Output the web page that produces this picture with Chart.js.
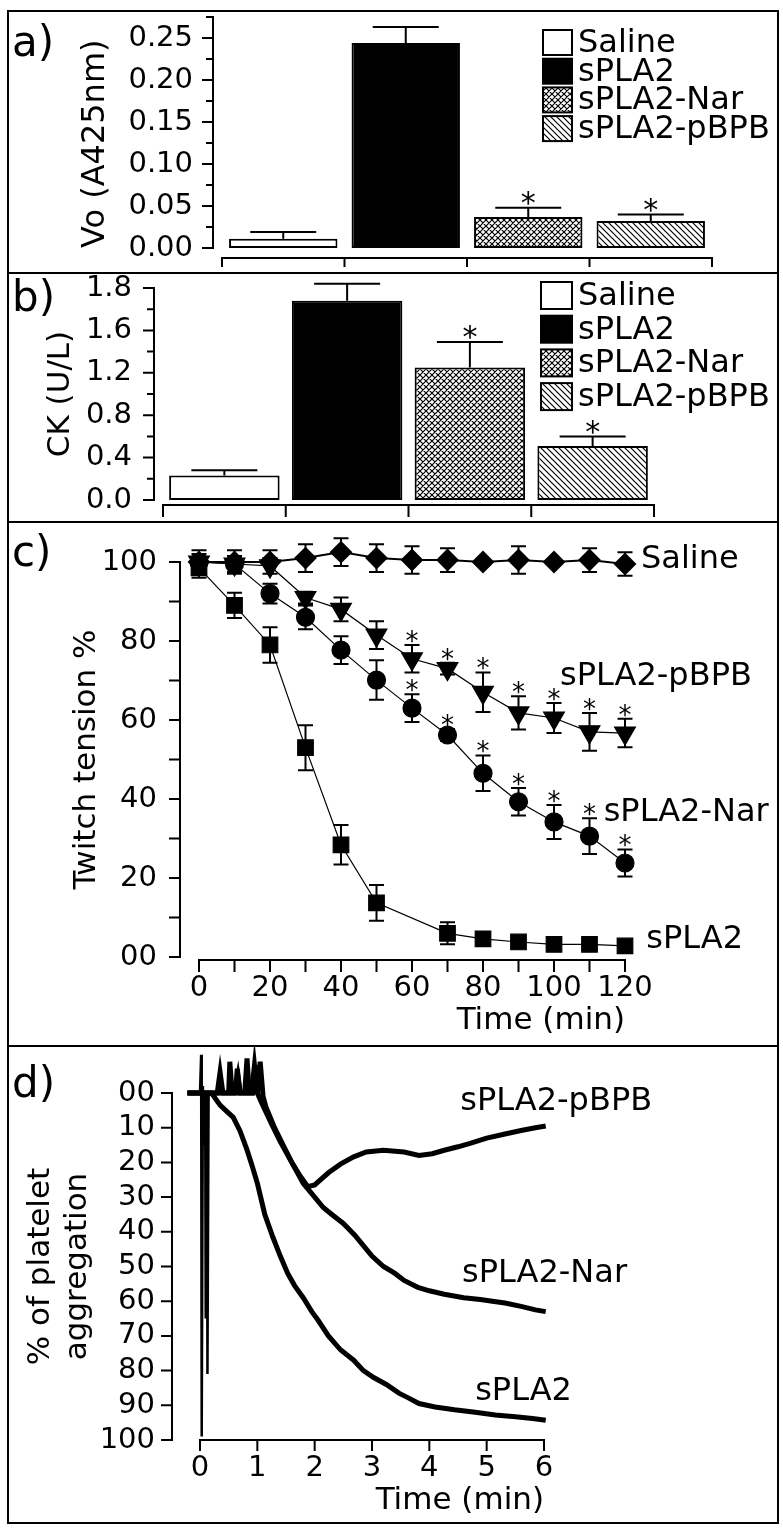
<!DOCTYPE html>
<html>
<head>
<meta charset="utf-8">
<script src="https://cdn.jsdelivr.net/npm/chart.js@4.4.1/dist/chart.umd.min.js"></script>
<style>
  html, body { margin: 0; padding: 0; background: #fff; }
  #page { position: relative; width: 783px; height: 1537px; overflow: hidden; font-family: "DejaVu Sans", sans-serif; }
  .frame { position: absolute; left: 7px; top: 10px; width: 768px; height: 1510px; border: 2px solid #000; }
  .rule { position: absolute; left: 7px; width: 772px; height: 2px; background: #000; }
  canvas { position: absolute; left: 0; }
  .tag { position: absolute; left: 12px; font-size: 42px; line-height: 42px; }
</style>
</head>
<body>
<div id="page">
  <div class="frame"></div>
  <div class="rule" style="top:272px"></div>
  <div class="rule" style="top:521px"></div>
  <div class="rule" style="top:1045px"></div>
  <canvas id="chart-a" width="783" height="263" style="top:10px"></canvas>
  <canvas id="chart-b" width="783" height="249" style="top:273px"></canvas>
  <canvas id="chart-c" width="783" height="524" style="top:522px"></canvas>
  <canvas id="chart-d" width="783" height="478" style="top:1046px"></canvas>
  <div class="tag" style="top:21px">a)</div>
  <div class="tag" style="top:276px">b)</div>
  <div class="tag" style="top:531px">c)</div>
  <div class="tag" style="top:1062px">d)</div>
</div>
<script>
// ---- a) initial velocity, A425nm ----
const groups = ["Saline", "sPLA2", "sPLA2-Nar", "sPLA2-pBPB"];
const voMean = [0.011, 0.244, 0.037, 0.032];
const voSem = [0.008, 0.019, 0.011, 0.008];
const voStar = [false, false, true, true];
const voTicks = ["0.00", "", "0.05", "", "0.10", "", "0.15", "", "0.20", "", "0.25", ""];

// ---- b) CK release ----
const ckMean = [0.23, 1.88, 1.25, 0.51];
const ckSem = [0.05, 0.16, 0.24, 0.09];
const ckStar = [false, false, true, true];
// the published axis labels its top tick "1.8"
const ckTicks = ["0.0", "", "0.4", "", "0.8", "", "1.2", "", "1.6", "", "1.8"];

// ---- c) twitch tension (%) ----
const twitchTime = [0, 10, 20, 30, 40, 50, 60, 70, 80, 90, 100, 110, 120];
const twitchSaline = [100, 100, 100, 101, 102.5, 101, 100.5, 100.5, 100, 100.5, 100, 100.5, 99.5];
const twitchSalineSem = [3, 3, 3, 3.5, 3.5, 3.5, 3.5, 3, 0, 3.5, 0, 3, 3];
const twitchPla2 = [98.5, 89, 79, 53, 28.4, 13.7, null, 6, 4.6, 3.8, 3.2, 3.2, 2.8];
const twitchPla2Sem = [2.5, 3.2, 4.5, 5.7, 5, 4.5, null, 2.8, 0.8, 0.8, 0.5, 0.5, 0];
const twitchNar = [100, 99.5, 92, 86, 77.7, 70.1, 63, 56.2, 46.5, 39.3, 34.2, 30.6, 23.8];
const twitchNarSem = [2, 2, 2.5, 3, 3.5, 5, 3.5, 1.5, 4.5, 3.5, 4.3, 4.5, 3.4];
const twitchPbpb = [100, 99.5, 99, 91, 88, 81.5, 75.5, 73, 67, 61.8, 60.5, 57, 56.7];
const twitchPbpbSem = [2, 2, 2, 1.5, 3, 3.5, 3.5, 1.5, 5, 4.2, 3.8, 4.8, 3.6];
const twitchStar = [false, false, false, false, false, false, true, true, true, true, true, true, true];
const twitchYTicks = ["00", "", "20", "", "40", "", "60", "", "80", "", "100"];
const twitchXTicks = ["0", "", "20", "", "40", "", "60", "", "80", "", "100", "", "120"];

// ---- d) platelet aggregation traces (%) ----
const aggPla2Time = [-0.22, 0.2, 0.35, 0.48, 0.58, 0.7, 0.82, 0.91, 1.0, 1.13, 1.27, 1.4, 1.53, 1.65, 1.8, 1.95, 2.06, 2.24, 2.45, 2.68, 2.85, 3.03, 3.25, 3.47, 3.65, 3.82, 4.1, 4.44, 4.8, 5.15, 5.5, 5.8, 6.03];
const aggPla2 = [0, 0, 3.5, 5.5, 7, 11, 16.4, 21, 26, 35, 41.5, 47, 52, 55.5, 59, 63, 65.5, 70, 74, 77, 80, 82, 84, 86.5, 88, 89.5, 90.5, 91.3, 92, 92.8, 93.3, 93.8, 94.3];
const aggNarTime = [-0.22, 0.6, 0.66, 0.7, 0.9, 0.95, 1.0, 1.08, 1.25, 1.4, 1.6, 1.8, 2.0, 2.15, 2.3, 2.5, 2.7, 2.85, 3.0, 3.2, 3.4, 3.56, 3.8, 4.0, 4.26, 4.6, 4.89, 5.1, 5.32, 5.6, 5.85, 6.03];
const aggNar = [0, 0, -5, 0, 0, -8, 0, 3, 9, 14, 20, 26, 30, 33, 35, 37.6, 41, 44, 47, 50, 52, 54, 56, 57, 58, 59, 59.5, 60, 60.5, 61.5, 62.5, 63];
const aggPbpbTime = [-0.22, 0.3, 0.35, 0.4, 0.5, 0.52, 0.56, 0.62, 0.65, 0.7, 0.78, 0.82, 0.86, 0.92, 0.96, 1.0, 1.05, 1.1, 1.15, 1.3, 1.45, 1.6, 1.75, 1.88, 2.0, 2.24, 2.45, 2.68, 2.9, 3.2, 3.56, 3.82, 4.05, 4.26, 4.5, 4.71, 5.0, 5.32, 5.6, 5.85, 6.03];
const aggPbpb = [0, 0, -6, 0, 0, -9, 0, 0, -7, 0, 0, -10, 0, 0, -8, 0, -9, 1, 4, 10, 15, 20, 24, 27, 26.5, 23, 20.5, 18.4, 17, 16.5, 17, 18, 17.5, 16.5, 15.5, 14.5, 13, 11.8, 10.8, 10, 9.5];
// stirring/injection artefact at the start of the recording
const aggArtefactTime = [0.0, 0.02, 0.03, 0.05, 0.07, 0.09, 0.1, 0.12, 0.13, 0.15, 0.17];
const aggArtefact = [0, -11, 99, -2, 15, 0, 65, 0, 81, 0, 0];
const aggYTicks = ["00", "10", "20", "30", "40", "50", "60", "70", "80", "90", "100"];
const aggXTicks = ["0", "1", "2", "3", "4", "5", "6"];

const FONT = '"DejaVu Sans", sans-serif';
const TICK_SIZE = 29;
Chart.defaults.font.family = FONT;
Chart.defaults.color = "#000";
Chart.defaults.plugins.legend.display = false;
Chart.defaults.plugins.tooltip.enabled = false;

function hatch(kind) {
  const tile = document.createElement("canvas");
  tile.width = 6;
  tile.height = 6;
  const g = tile.getContext("2d");
  g.fillStyle = "#fff";
  g.fillRect(0, 0, 6, 6);
  g.strokeStyle = "#000";
  g.lineWidth = 1.2;
  g.beginPath();
  g.moveTo(-1, -1); g.lineTo(7, 7);
  g.moveTo(-1, 5); g.lineTo(1, 7);
  g.moveTo(5, -1); g.lineTo(7, 1);
  if (kind === "cross") {
    g.moveTo(-1, 7); g.lineTo(7, -1);
    g.moveTo(-1, 1); g.lineTo(1, -1);
    g.moveTo(5, 7); g.lineTo(7, 5);
  }
  g.stroke();
  return g.createPattern(tile, "repeat");
}
const fills = ["#fff", "#000", hatch("cross"), hatch("diag")];

// Prism-style detached axes: y line left of the plot, x line/bracket below it.
const detachedAxes = {
  id: "detachedAxes",
  beforeDatasetsDraw(chart, args, o) {
    const { ctx, chartArea: area, scales: { x, y } } = chart;
    ctx.save();
    ctx.strokeStyle = "#000";
    ctx.lineWidth = 2;
    ctx.beginPath();
    const y0 = y.getPixelForValue(y.min);
    const y1 = y.getPixelForValue(y.max);
    ctx.moveTo(o.yLineX, Math.min(y0, y1) - 1);
    ctx.lineTo(o.yLineX, Math.max(y0, y1) + 1);
    for (const t of y.ticks) {
      const py = y.getPixelForValue(t.value);
      ctx.moveTo(o.yLineX - (t.label ? o.major : o.minor), py);
      ctx.lineTo(o.yLineX, py);
    }
    ctx.moveTo(area.left - 1, o.xLineY);
    ctx.lineTo(area.right + 1, o.xLineY);
    let marks;
    if (o.edges) {
      const w = (area.right - area.left) / o.edges;
      marks = Array.from({ length: o.edges + 1 }, (_, i) => area.left + i * w);
    } else {
      marks = x.ticks.map((t) => x.getPixelForValue(t.value));
    }
    for (const px of marks) {
      ctx.moveTo(px, o.xLineY);
      ctx.lineTo(px, o.xLineY + o.xTick);
    }
    ctx.stroke();
    ctx.restore();
  },
};

const barErrors = {
  id: "barErrors",
  afterDatasetsDraw(chart, args, o) {
    const { ctx, scales: { y } } = chart;
    const values = chart.data.datasets[0].data;
    ctx.save();
    ctx.strokeStyle = "#000";
    ctx.fillStyle = "#000";
    ctx.lineWidth = 2;
    ctx.font = `${o.starSize}px ${FONT}`;
    ctx.textAlign = "center";
    chart.getDatasetMeta(0).data.forEach((bar, i) => {
      const capY = y.getPixelForValue(values[i] + o.sem[i]);
      ctx.beginPath();
      ctx.moveTo(bar.x, bar.y);
      ctx.lineTo(bar.x, capY);
      ctx.moveTo(bar.x - o.cap / 2, capY);
      ctx.lineTo(bar.x + o.cap / 2, capY);
      ctx.stroke();
      if (o.stars[i]) ctx.fillText("*", bar.x, capY - o.starGap + o.starSize * 0.57);
    });
    ctx.restore();
  },
};

const boxLegend = {
  id: "boxLegend",
  afterDraw(chart, args, o) {
    const { ctx } = chart;
    const colors = chart.data.datasets[0].backgroundColor;
    ctx.save();
    ctx.lineWidth = 2;
    ctx.strokeStyle = "#000";
    ctx.font = `${o.size}px ${FONT}`;
    ctx.textBaseline = "middle";
    chart.data.labels.forEach((label, i) => {
      const top = o.top + i * o.row;
      ctx.fillStyle = colors[i];
      ctx.fillRect(o.left, top, o.boxW, o.boxH);
      ctx.strokeRect(o.left, top, o.boxW, o.boxH);
      ctx.fillStyle = "#000";
      ctx.fillText(label, o.left + o.boxW + 6, top + o.boxH / 2 + 1);
    });
    ctx.restore();
  },
};

const pointErrors = {
  id: "pointErrors",
  beforeDatasetsDraw(chart, args, o) {
    const { ctx, scales: { y } } = chart;
    ctx.save();
    ctx.strokeStyle = "#000";
    ctx.lineWidth = 2;
    ctx.beginPath();
    chart.data.datasets.forEach((ds, di) => {
      chart.getDatasetMeta(di).data.forEach((pt, i) => {
        const p = ds.data[i];
        if (!p.err) return;
        const hi = y.getPixelForValue(p.y + p.err);
        const lo = y.getPixelForValue(p.y - p.err);
        ctx.moveTo(pt.x, hi); ctx.lineTo(pt.x, lo);
        ctx.moveTo(pt.x - o.cap / 2, hi); ctx.lineTo(pt.x + o.cap / 2, hi);
        ctx.moveTo(pt.x - o.cap / 2, lo); ctx.lineTo(pt.x + o.cap / 2, lo);
      });
    });
    ctx.stroke();
    ctx.restore();
  },
  afterDatasetsDraw(chart, args, o) {
    const { ctx, scales: { y } } = chart;
    ctx.save();
    ctx.fillStyle = "#000";
    ctx.font = `${o.starSize}px ${FONT}`;
    ctx.textAlign = "center";
    chart.data.datasets.forEach((ds, di) => {
      chart.getDatasetMeta(di).data.forEach((pt, i) => {
        const p = ds.data[i];
        if (!p.star) return;
        const capY = y.getPixelForValue(p.y + (p.err || 0));
        ctx.fillText("*", pt.x, capY - o.starGap + o.starSize * 0.57);
      });
    });
    ctx.restore();
  },
};

const seriesLabels = {
  id: "seriesLabels",
  afterDraw(chart, args, o) {
    const { ctx, scales: { x, y } } = chart;
    ctx.save();
    ctx.fillStyle = "#000";
    ctx.font = `${o.size}px ${FONT}`;
    ctx.textBaseline = "middle";
    for (const item of o.items) {
      ctx.fillText(item.text, x.getPixelForValue(item.x), y.getPixelForValue(item.y));
    }
    ctx.restore();
  },
};

// Chart.js pads the plot for the end tick labels; the layout here is fixed instead.
function fixedWidth(width) {
  return (s) => { s.width = width; s.paddingTop = 0; s.paddingBottom = 0; };
}
function fixedHeight(height) {
  return (s) => { s.height = height; s.paddingLeft = 0; s.paddingRight = 0; };
}

function valueAxis(min, max, step, labels, width, pad, title, extra) {
  return Object.assign({
    min,
    max,
    grid: { display: false, drawTicks: false },
    border: { display: false },
    ticks: {
      stepSize: step,
      autoSkip: false,
      maxTicksLimit: 40,
      padding: pad,
      font: { size: TICK_SIZE },
      callback: (v) => labels[Math.round((v - min) / step)] ?? "",
    },
    title: Object.assign({ display: true, font: { size: 31 } }, title),
    afterFit: fixedWidth(width),
  }, extra);
}

function barPanel(id, values, sem, stars, yMax, step, ticks, layout, axes, legend, title) {
  return new Chart(document.getElementById(id), {
    type: "bar",
    data: {
      labels: groups,
      datasets: [{
        data: values,
        backgroundColor: fills,
        borderColor: "#000",
        borderWidth: 2,
        borderSkipped: false,
        barPercentage: layout.bar,
        categoryPercentage: 1,
      }],
    },
    options: {
      responsive: false,
      animation: false,
      devicePixelRatio: 1,
      layout: { padding: layout.padding },
      scales: {
        x: { display: false },
        y: valueAxis(0, yMax, step, ticks, layout.left, layout.tickPad, title),
      },
      plugins: {
        detachedAxes: axes,
        barErrors: { sem, stars, cap: 66, starSize: 30, starGap: 12 },
        boxLegend: legend,
      },
    },
    plugins: [detachedAxes, barErrors, boxLegend],
  });
}

barPanel("chart-a", voMean, voSem, voStar, 0.275, 0.025, voTicks,
  { bar: 0.885, left: 222, tickPad: 29, padding: { top: 7, right: 71, bottom: 25, left: 0 } },
  { yLineX: 213, xLineY: 248, xTick: 9, major: 11, minor: 7, edges: 4 },
  { left: 543, top: 20, row: 28.7, boxW: 29, boxH: 25, size: 32 },
  { text: "Vo (A425nm)", align: "start", font: { size: 32 }, padding: { top: 76 } });

barPanel("chart-b", ckMean, ckSem, ckStar, 2.0, 0.2, ckTicks,
  { bar: 0.9, left: 163, tickPad: 31, padding: { top: 15, right: 129, bottom: 22, left: 0 } },
  { yLineX: 154, xLineY: 232, xTick: 12, major: 11, minor: 7, edges: 4 },
  { left: 541, top: 9, row: 33.7, boxW: 31, boxH: 27, size: 32 },
  { text: "CK (U/L)", padding: { top: 42 } });

function withErrors(values, sem, stars) {
  const points = [];
  twitchTime.forEach((t, i) => {
    if (values[i] === null) return;
    points.push({ x: t, y: values[i], err: sem[i], star: stars ? stars[i] : false });
  });
  return points;
}

const lineBase = { borderColor: "#000", backgroundColor: "#000", pointBorderColor: "#000", pointBackgroundColor: "#000", clip: false, spanGaps: true };

new Chart(document.getElementById("chart-c"), {
  type: "line",
  data: {
    datasets: [
      Object.assign({ label: "Saline", data: withErrors(twitchSaline, twitchSalineSem), borderWidth: 2, pointStyle: "rectRot", pointRadius: 10 }, lineBase),
      Object.assign({ label: "sPLA2", data: withErrors(twitchPla2, twitchPla2Sem), borderWidth: 1.2, pointStyle: "rect", pointRadius: 11 }, lineBase),
      Object.assign({ label: "sPLA2-Nar", data: withErrors(twitchNar, twitchNarSem, twitchStar), borderWidth: 1.2, pointStyle: "circle", pointRadius: 9 }, lineBase),
      Object.assign({ label: "sPLA2-pBPB", data: withErrors(twitchPbpb, twitchPbpbSem, twitchStar), borderWidth: 1.2, pointStyle: "triangle", pointRotation: 180, pointRadius: 12 }, lineBase),
    ],
  },
  options: {
    responsive: false,
    animation: false,
    devicePixelRatio: 1,
    layout: { padding: { top: 40, right: 158, bottom: 0, left: 0 } },
    scales: {
      x: {
        type: "linear",
        min: 0,
        max: 120,
        grid: { display: false, drawTicks: false },
        border: { display: false },
        ticks: { stepSize: 10, autoSkip: false, maxTicksLimit: 40, padding: 14, maxRotation: 0, font: { size: TICK_SIZE }, callback: (v) => twitchXTicks[Math.round(v / 10)] ?? "" },
        title: { display: true, text: "Time (min)", align: "end", font: { size: 31 }, padding: { bottom: 6 } },
        afterFit: fixedHeight(89),
      },
      y: valueAxis(0, 100, 10, twitchYTicks, 199, 42, { text: "Twitch tension %", padding: { top: 68 } }),
    },
    plugins: {
      detachedAxes: { yLineX: 180, xLineY: 438, xTick: 12, major: 11, minor: 11 },
      pointErrors: { cap: 15, starSize: 26, starGap: 10 },
      seriesLabels: {
        size: 32,
        items: [
          { text: "Saline", x: 124.5, y: 100.5 },
          { text: "sPLA2-pBPB", x: 101.7, y: 70.9 },
          { text: "sPLA2-Nar", x: 114, y: 36.5 },
          { text: "sPLA2", x: 126, y: 4.3 },
        ],
      },
    },
  },
  plugins: [detachedAxes, pointErrors, seriesLabels],
});

function trace(times, values) {
  return times.map((t, i) => ({ x: t, y: values[i] }));
}
const traceBase = { borderColor: "#000", pointRadius: 0, clip: false, tension: 0 };

new Chart(document.getElementById("chart-d"), {
  type: "line",
  data: {
    datasets: [
      Object.assign({ label: "artefact", data: trace(aggArtefactTime, aggArtefact), borderWidth: 2.5 }, traceBase),
      Object.assign({ label: "sPLA2", data: trace(aggPla2Time, aggPla2), borderWidth: 5 }, traceBase),
      Object.assign({ label: "sPLA2-Nar", data: trace(aggNarTime, aggNar), borderWidth: 5 }, traceBase),
      Object.assign({ label: "sPLA2-pBPB", data: trace(aggPbpbTime, aggPbpb), borderWidth: 5 }, traceBase),
    ],
  },
  options: {
    responsive: false,
    animation: false,
    devicePixelRatio: 1,
    layout: { padding: { top: 47, right: 239, bottom: 0, left: 0 } },
    scales: {
      x: {
        type: "linear",
        min: 0,
        max: 6,
        grid: { display: false, drawTicks: false },
        border: { display: false },
        ticks: { stepSize: 1, autoSkip: false, padding: 11, maxRotation: 0, font: { size: TICK_SIZE }, callback: (v) => aggXTicks[Math.round(v)] ?? "" },
        title: { display: true, text: "Time (min)", align: "end", font: { size: 31 }, padding: { bottom: 4 } },
        afterFit: fixedHeight(84),
      },
      y: valueAxis(0, 100, 10, aggYTicks, 200, 45,
        { text: ["% of platelet", "aggregation"], font: { size: 31 }, padding: { top: 22 } },
        { reverse: true }),
    },
    plugins: {
      detachedAxes: { yLineX: 172, xLineY: 394, xTick: 11, major: 11, minor: 11 },
      seriesLabels: {
        size: 32,
        items: [
          { text: "sPLA2-pBPB", x: 4.54, y: 2.6 },
          { text: "sPLA2-Nar", x: 4.57, y: 52 },
          { text: "sPLA2", x: 4.8, y: 86 },
        ],
      },
    },
  },
  plugins: [detachedAxes, seriesLabels],
});
</script>
</body>
</html>
